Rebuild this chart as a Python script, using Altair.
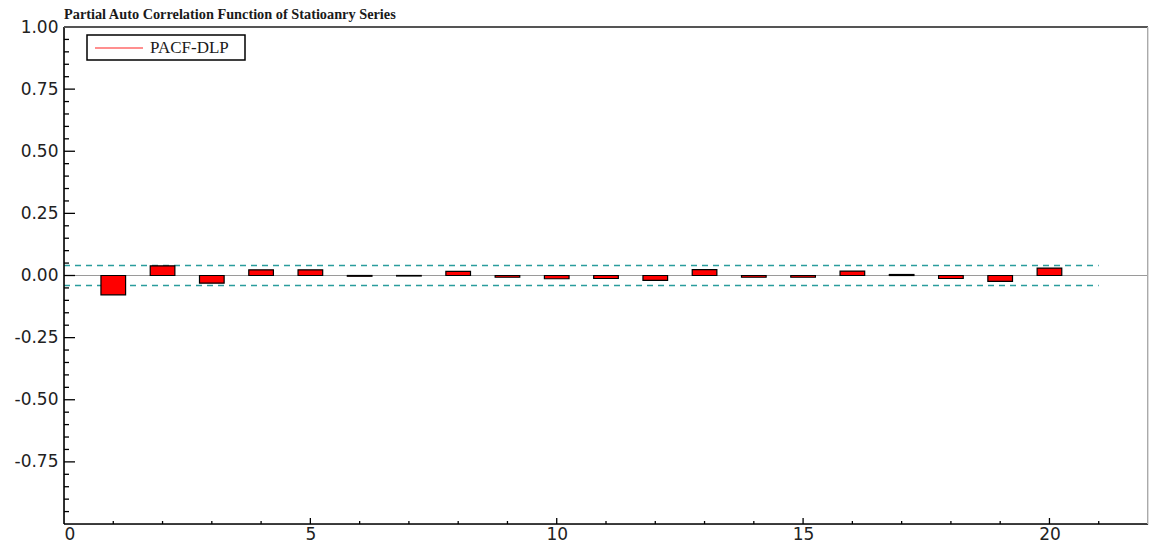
import altair as alt
import pandas as pd

TITLE = "Partial Auto Correlation Function of Statioanry Series"
SERIES_NAME = "PACF-DLP"
LAGS = list(range(1, 21))
PACF = [-0.078, 0.039, -0.031, 0.023, 0.023, -0.003, -0.002, 0.017, -0.007, -0.013,
        -0.012, -0.020, 0.024, -0.007, -0.007, 0.018, 0.004, -0.012, -0.024, 0.030]
CONF_BOUNDS = [0.04, -0.04]
CONF_X_END = 21
X_DOMAIN = [0, 22]
Y_DOMAIN = [-1, 1]
X_LABELS = [0, 5, 10, 15, 20]
Y_LABELS = [-0.75, -0.5, -0.25, 0.0, 0.25, 0.5, 0.75, 1.0]
X_MAJOR_TICKS = [5, 10, 15, 20]
X_MINOR_TICKS = [v for v in range(1, 22) if v not in X_MAJOR_TICKS]
Y_MAJOR_TICKS = [-0.75, -0.5, -0.25, 0.0, 0.25, 0.5, 0.75]
Y_MINOR_TICKS = [round(-1 + 0.05 * i, 2) for i in range(1, 40)
                 if round(-1 + 0.05 * i, 2) not in Y_MAJOR_TICKS]

W, H = 1084, 497
LABEL_FONT = "DejaVu Sans"
SERIF = "Liberation Serif"
TEAL = "#2a9d9d"

x_scale = alt.Scale(domain=X_DOMAIN, nice=False, zero=False)
y_scale = alt.Scale(domain=Y_DOMAIN, nice=False)

x_axis = alt.Axis(values=X_LABELS, format="d", ticks=False, domain=False, grid=False,
                  labelFont=LABEL_FONT, labelFontSize=17, labelColor="#222",
                  labelPadding=2, title=None)
y_axis = alt.Axis(values=Y_LABELS, ticks=False, domain=False, grid=False,
                  labelExpr="(datum.value < 0 ? '-' : '') + format(abs(datum.value), '.2f')",
                  labelFont=LABEL_FONT, labelFontSize=17, labelColor="#222",
                  labelPadding=6, title=None, labelOverlap=False)

X = lambda f: alt.X(f, scale=x_scale, axis=x_axis)
Y = lambda f: alt.Y(f, scale=y_scale, axis=y_axis)

bars_df = pd.DataFrame({"lag": LAGS, "pacf": PACF})
bars = alt.Chart(bars_df).transform_calculate(
    x0="datum.lag - 0.25", x1="datum.lag + 0.25", zero="0"
).mark_bar(color="#ff0000", stroke="#000000", strokeWidth=1.2).encode(
    x=X("x0:Q"), x2="x1:Q", y=Y("pacf:Q"), y2="zero:Q"
)

zero_df = pd.DataFrame({"y": [0.0], "xa": [X_DOMAIN[0]], "xb": [X_DOMAIN[1]]})
zero_line = alt.Chart(zero_df).mark_rule(color="#9a9a9a", strokeWidth=1).encode(
    x=X("xa:Q"), x2="xb:Q", y=Y("y:Q")
)

conf_df = pd.DataFrame({"y": CONF_BOUNDS, "xa": [0, 0], "xb": [CONF_X_END, CONF_X_END]})
conf = alt.Chart(conf_df).mark_rule(color=TEAL, strokeWidth=1.5, strokeDash=[6, 5]).encode(
    x=X("xa:Q"), x2="xb:Q", y=Y("y:Q")
)

ytick_major = alt.Chart(pd.DataFrame({"v": Y_MAJOR_TICKS})).mark_rule(color="#000", strokeWidth=1.3).encode(
    y=Y("v:Q"), x=alt.value(0), x2=alt.value(11))
ytick_minor = alt.Chart(pd.DataFrame({"v": Y_MINOR_TICKS})).mark_rule(color="#000", strokeWidth=1.3).encode(
    y=Y("v:Q"), x=alt.value(0), x2=alt.value(5))
xtick_major = alt.Chart(pd.DataFrame({"v": X_MAJOR_TICKS})).mark_rule(color="#000", strokeWidth=1.3).encode(
    x=X("v:Q"), y=alt.value(H), y2=alt.value(H - 6))
xtick_minor = alt.Chart(pd.DataFrame({"v": X_MINOR_TICKS})).mark_rule(color="#000", strokeWidth=1.3).encode(
    x=X("v:Q"), y=alt.value(H), y2=alt.value(H - 3))

one = pd.DataFrame({"a": [0]})
frame_left = alt.Chart(one).mark_rule(color="#000", strokeWidth=1.6).encode(
    x=alt.value(0), y=alt.value(0), y2=alt.value(H))
frame_bottom = alt.Chart(one).mark_rule(color="#000", strokeWidth=1.6).encode(
    y=alt.value(H), x=alt.value(0), x2=alt.value(W))
frame_top = alt.Chart(one).mark_rule(color="#555", strokeWidth=2).encode(
    y=alt.value(0), x=alt.value(0), x2=alt.value(W))
frame_right = alt.Chart(one).mark_rule(color="#aaa", strokeWidth=1).encode(
    x=alt.value(W - 0.5), y=alt.value(0), y2=alt.value(H))

leg_df = pd.DataFrame({"name": [SERIES_NAME]})
leg_box = alt.Chart(leg_df).mark_rect(fill="white", stroke="#000", strokeWidth=1.5).encode(
    x=alt.value(23), x2=alt.value(181), y=alt.value(8), y2=alt.value(33))
leg_line = alt.Chart(leg_df).mark_rule(color="#ff2020", strokeWidth=1.2).encode(
    x=alt.value(31), x2=alt.value(79), y=alt.value(21))
leg_text = alt.Chart(leg_df).mark_text(align="left", baseline="middle", font=SERIF,
                                       fontSize=17, color="#1a1a1a").encode(
    x=alt.value(86), y=alt.value(21), text="name:N")

chart = alt.layer(
    zero_line, conf, bars, ytick_major, ytick_minor, xtick_major, xtick_minor,
    frame_left, frame_bottom, frame_top, frame_right, leg_box, leg_line, leg_text
).properties(
    width=W, height=H,
    title=alt.TitleParams(TITLE, anchor="start", frame="group", font=SERIF, fontSize=14.3,
                          fontWeight="bold", color="#1a1a1a", offset=-4),
    autosize=alt.AutoSizeParams(type="none"),
    padding={"left": 64, "top": 27, "right": 1, "bottom": 20},
).configure_view(stroke=None).configure(background="white")

chart.save("out.html", embed_options={"renderer": "svg", "actions": False})
